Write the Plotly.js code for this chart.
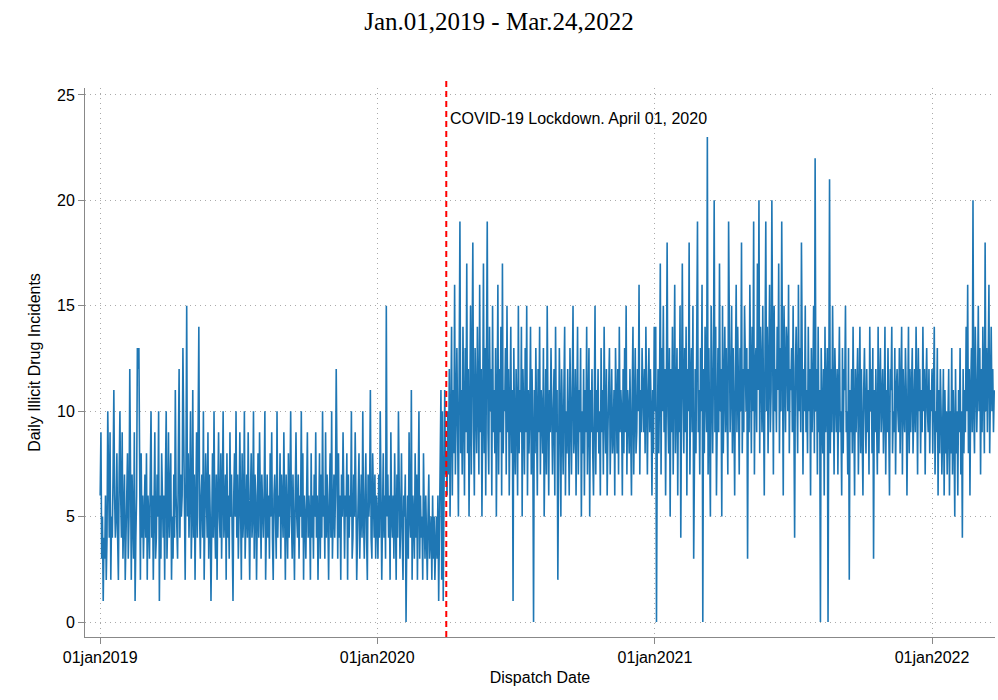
<!DOCTYPE html>
<html><head><meta charset="utf-8">
<script src="https://cdn.plot.ly/plotly-3.0.1.min.js"></script>
<style>body{margin:0} #chart{width:998px;height:700px}</style>
</head><body><div id="chart"></div>
<script>
// daily counts (approximate)
var startDate = '2019-01-01';
var v2019 = [6,9,3,5,1,4,3,6,2,4,10,5,4,9,2,5,4,7,11,6,
4,5,8,4,2,7,10,6,4,9,3,5,7,2,4,6,8,3,5,12,
4,2,7,5,3,9,1,4,6,13,12,13,5,2,8,4,6,3,5,7,
4,8,2,6,5,3,7,10,4,6,2,5,9,3,4,7,5,10,1,6,
3,8,5,4,6,2,7,10,3,5,9,4,6,8,2,5,3,7,4,11,
6,5,3,8,12,4,7,5,6,13,9,4,2,7,15,5,8,4,6,10,
3,5,11,4,7,2,6,9,4,8,14,5,3,6,7,4,10,2,5,8,
6,4,9,3,7,5,1,6,8,4,10,5,3,7,2,6,9,5,4,8,
3,6,10,4,5,7,2,8,4,6,3,9,5,7,4,1,6,8,5,10,
4,7,3,5,9,6,2,8,4,5,10,3,6,7,4,9,5,2,6,8,
4,5,10,3,7,6,2,5,8,4,9,6,3,7,5,4,6,10,2,5,
7,4,6,3,8,5,9,4,2,6,7,5,3,10,4,6,5,8,3,7,
5,4,9,6,2,7,5,3,8,4,6,10,5,3,7,4,2,6,9,5,
4,7,3,6,5,10,4,8,2,6,5,3,7,9,4,6,5,2,8,4,
6,3,7,5,9,4,6,2,5,8,3,7,4,10,5,6,3,9,4,7,
5,2,6,8,4,10,3,5,7,4,6,12,5,3,8,4,6,2,7,5,
9,4,3,6,5,8,2,7,4,6,5,10,3,4,7,5,9,6,2,4,
6,8,3,5,7,4,10,5,3,6,8,4,2,7,5,6,11,4,3,8,
5,4,7,3,6];
var v2020a = [5,3,7,4,10,6,2,5,8,4,6,3,15,5,7,4,6,2,9,5,
4,6,3,8,5,2,7,4,10,6,3,5,8,4,2,6,5,7,0,4,
6,3,9,5,4,11,2,6,5,3,8,4,7,2,5,10,3,6,4,5,
2,8,5,3,6,4,2,5,7,3,4,5,2,6,3,5,2,4,5,3,
6,1,4,8,11,2,10,1,9,11,7];
var v2020b = [8,6,10,7,12,5,9,14,6,11,8,16,7,10,13,9,5,12,19,8,
11,7,14,10,6,13,9,17,8,12,5,10,15,7,11,18,9,6,13,10,
8,14,11,7,16,9,12,5,10,17,8,13,6,11,19,9,7,14,10,12,
6,15,9,11,8,13,5,10,16,7,12,9,14,6,17,8,11,10,13,7,
15,9,12,6,10,14,8,11,1,13,9,7,12,10,6,15,8,11,9,14,
5,12,10,7,13,9,15,6,11,8,10,14,7,12,9,0,11,8,13,10,
6,12,9,14,7,11,10,8,13,5,9,12,7,15,10,6,11,9,13,8,
7,10,12,6,14,9,11,2,8,13,10,5,12,9,7,11,14,6,10,8,
12,9,6,13,10,7,11,15,8,9,12,6,10,14,7,11,9,13,5,10,
8,12,6,11,9,14,7,10,13,5,11,9,12,8,6,10,15,7,11,9,
12,8,10,6,13,9,11,7,14,10,8,12,6,9,11,13,7,10,12,8,
9,11,6,13,10,8,12,7,14,9,11,10,6,12,8,13,9,15,7,11,
10,8,12,9,6,11,14,7,10,13,8,9,12,10,16,7,11,9,13,10,
9,12,8,14,10,7,11,13,9,12,10,6,11,8,14];
var v2021 = [10,14,0,9,12,8,11,17,7,13,10,15,9,12,6,11,18,10,8,13,
5,12,9,14,7,11,16,8,10,13,6,12,9,15,4,10,17,11,8,13,
9,14,6,12,10,18,7,11,13,9,15,3,10,12,8,14,19,9,11,7,
13,10,16,0,12,8,14,11,9,23,7,13,10,5,15,11,8,12,20,9,
14,6,11,13,9,17,10,12,5,15,8,11,14,9,13,10,7,19,12,9,
11,15,8,13,10,6,12,16,9,14,11,7,13,10,18,8,12,9,15,11,
10,13,3,12,9,16,11,8,14,10,19,7,12,13,9,17,11,20,8,14,
12,9,15,11,6,13,19,10,14,8,12,16,9,11,20,13,7,15,10,12,
9,14,11,17,8,13,10,19,12,6,15,11,9,14,13,10,16,8,12,11,
13,9,15,10,4,12,14,11,8,16,10,13,9,18,11,7,12,10,15,9,
11,8,14,10,12,6,13,9,11,15,8,22,10,12,7,14,9,11,0,13,
10,8,12,6,14,9,11,13,0,10,21,8,12,9,15,11,7,13,10,9,
12,7,11,14,9,10,6,13,8,12,11,15,9,10,7,13,2,11,9,12,
8,14,10,6,12,9,11,13,7,10,14,8,12,9,6,11,13,10,8,12,
9,11,7,14,10,12,8,13,3,11,9,12,10,7,14,8,11,13,9,10,
12,8,10,14,7,11,9,13,10,6,12,11,14,8,10,9,13,7,11,12,
10,9,13,8,11,14,7,12,10,9,13,11,6,10,14,8,12,9,11,13,
8,10,12,9,14,11,7,13,10,12,8,11,9,14,10,12,7,11,13,10,
9,12,8,11,10];
var v2022 = [12,8,11,14,7,10,9,13,6,11,8,12,10,7,9,12,6,11,8,10,
7,9,12,6,10,8,13,7,11,9,5,12,8,10,6,11,9,13,7,10,
4,12,8,11,9,14,10,16,8,12,6,11,13,9,20,10,8,14,12,9,
11,15,10,13,7,12,9,14,11,8,18,10,13,9,12,16,8,11,14,10,
12,9,11];
var tickVals = ['2019-01-01','2020-01-01','2021-01-01','2022-01-01'];
var tickText = ['01jan2019','01jan2020','01jan2021','01jan2022'];
var lockdown = '2020-04-01';

var counts = v2019.concat(v2020a, v2020b, v2021, v2022);
var dates = [];
var t0 = Date.parse(startDate + 'T00:00:00Z');
for (var i = 0; i < counts.length; i++) {
  dates.push(new Date(t0 + i*86400000).toISOString().slice(0,10));
}

var font = {family: 'Liberation Sans, Arial, sans-serif', size: 16, color: '#000'};
Plotly.newPlot('chart', [{
  x: dates, y: counts, type: 'scatter', mode: 'lines',
  line: {color: '#1f77b4', width: 1.6}, hoverinfo: 'x+y'
}], {
  width: 998, height: 700,
  paper_bgcolor: '#fff', plot_bgcolor: '#fff',
  margin: {l: 85, r: 3, t: 88, b: 63},
  font: font, showlegend: false,
  title: {text: 'Jan.01,2019 - Mar.24,2022', x: 0.5, y: 0.97, yanchor: 'middle',
    font: {family: 'Liberation Serif, DejaVu Serif, serif', size: 25, color: '#000'}},
  xaxis: {type: 'date', range: ['2018-12-12', '2022-03-25'],
    tickvals: tickVals, ticktext: tickText, ticks: 'outside', ticklen: 6,
    showgrid: true, gridcolor: '#aaa', griddash: '1px,4px', zeroline: false,
    showline: true, linecolor: '#888', tickcolor: '#888',
    title: {text: 'Dispatch Date', font: font, standoff: 6}},
  yaxis: {range: [-0.71, 25.33], tickvals: [0,5,10,15,20,25], ticks: 'outside', ticklen: 6,
    showgrid: true, gridcolor: '#aaa', griddash: '1px,4px', zeroline: false,
    showline: true, linecolor: '#888', tickcolor: '#888',
    title: {text: 'Daily Illicit Drug Incidents', font: font, standoff: 12}},
  shapes: [{type: 'line', xref: 'x', yref: 'paper', x0: lockdown, x1: lockdown, y0: 0, y1: 1.015,
    line: {color: 'red', width: 2, dash: '6px,4px'}}],
  annotations: [{xref: 'x', yref: 'y', x: lockdown, y: 23.9, xanchor: 'left', xshift: 2,
    text: 'COVID-19 Lockdown. April 01, 2020', showarrow: false, font: font}]
}, {displayModeBar: false});
</script>
</body></html>
